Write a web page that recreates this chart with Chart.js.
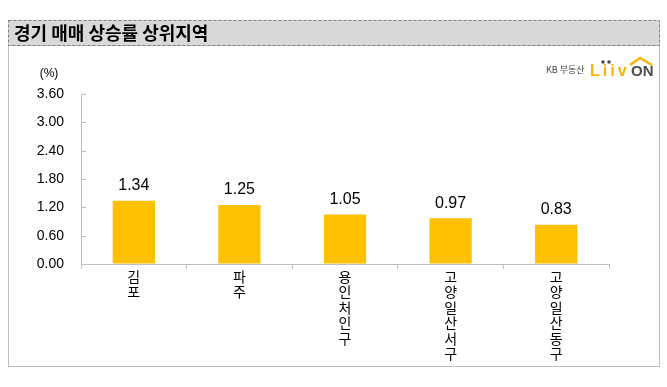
<!DOCTYPE html>
<html lang="ko">
<head>
<meta charset="UTF-8">
<title>경기 매매 상승률 상위지역</title>
<script src="https://cdn.jsdelivr.net/npm/chart.js"></script>
<style>
  html, body { margin: 0; padding: 0; background: #fff; }
  canvas { display: block; }
</style>
</head>
<body>
<canvas id="chart" width="667" height="387"></canvas>
<script>
// 데이터
var titleText = '경기 매매 상승률 상위지역';
var regions = ['김포', '파주', '용인 처인구', '고양 일산서구', '고양 일산동구'];
var rates = [1.34, 1.25, 1.05, 0.97, 0.83];
var yMin = 0;
var yMax = 3.6;
var yStep = 0.6;
var unitText = '(%)';

var numFont = 'Arial, "Liberation Sans", sans-serif';
var korFont = '"Noto Sans CJK KR", "Noto Sans", sans-serif';

// 글자를 세로로 쌓기 (공백 제외)
var stackedLabels = regions.map(function (r) {
  return r.replace(/\s/g, '').split('');
});

// 배경, 제목, 로고, 단위, 값 표시
var decorPlugin = {
  id: 'decor',
  beforeDraw: function (chart) {
    var c = chart.ctx;
    c.save();
    // 패널 테두리
    c.strokeStyle = '#bfbfbf';
    c.lineWidth = 1;
    c.strokeRect(8.5, 45.5, 651, 321);
    // 제목 바
    c.fillStyle = '#d9d9d9';
    c.fillRect(8, 20, 652, 25);
    c.setLineDash([3, 2]);
    c.strokeStyle = '#7f7f7f';
    c.strokeRect(8.5, 20.5, 651, 25);
    c.setLineDash([]);
    c.fillStyle = '#000';
    c.font = 'bold 18px ' + korFont;
    c.textBaseline = 'middle';
    c.textAlign = 'left';
    c.fillText(titleText, 14, 33);

    // 로고
    c.font = '9px ' + korFont;
    c.fillStyle = '#444';
    c.fillText('KB 부동산', 546, 70);
    c.font = 'bold 16px ' + numFont;
    c.fillStyle = '#f7b500';
    c.letterSpacing = '3px';
    c.fillText('Liiv', 590, 72);
    c.letterSpacing = '0px';
    c.fillStyle = '#4d4d4d';
    c.font = 'bold 15px ' + numFont;
    c.fillText('ON', 631, 72);
    c.beginPath();
    c.arc(603, 62, 1.8, 0, Math.PI * 2);
    c.arc(609, 62, 1.8, 0, Math.PI * 2);
    c.fill();
    c.strokeStyle = '#f7b500';
    c.lineWidth = 2.5;
    c.beginPath();
    c.moveTo(630, 65);
    c.lineTo(640, 58);
    c.lineTo(652, 65);
    c.stroke();

    // 단위
    c.font = '12px ' + numFont;
    c.fillStyle = '#000';
    c.textAlign = 'center';
    c.fillText(unitText, 49, 74);
    c.restore();
  },
  afterDatasetsDraw: function (chart) {
    var c = chart.ctx;
    var y = chart.scales.y;
    var area = chart.chartArea;
    c.save();
    // y축 안쪽 눈금
    c.strokeStyle = '#bfbfbf';
    c.lineWidth = 1;
    for (var v = yMin; v <= yMax + 1e-9; v += yStep) {
      var py = Math.round(y.getPixelForValue(v)) + 0.5;
      c.beginPath();
      c.moveTo(area.left, py);
      c.lineTo(area.left + 5, py);
      c.stroke();
    }
    // 값 레이블
    c.font = '16px ' + numFont;
    c.fillStyle = '#000';
    c.textAlign = 'center';
    c.textBaseline = 'middle';
    chart.getDatasetMeta(0).data.forEach(function (bar, i) {
      c.fillText(rates[i].toFixed(2), bar.x, bar.y - 15);
    });
    c.restore();
  }
};

new Chart(document.getElementById('chart').getContext('2d'), {
  type: 'bar',
  data: {
    labels: stackedLabels,
    datasets: [{
      data: rates,
      backgroundColor: '#ffc000',
      barPercentage: 0.4,
      categoryPercentage: 1.0
    }]
  },
  options: {
    responsive: false,
    animation: false,
    layout: { padding: { left: 0, right: 58, top: 94, bottom: 0 } },
    plugins: {
      legend: { display: false },
      tooltip: { enabled: false }
    },
    scales: {
      x: {
        afterFit: function (scale) { scale.height = 123; },
        grid: {
          display: true,
          drawOnChartArea: false,
          tickLength: 5,
          color: '#bfbfbf',
          offset: true
        },
        border: { display: true, color: '#bfbfbf' },
        ticks: {
          color: '#000',
          maxRotation: 0,
          minRotation: 0,
          padding: 0,
          font: { family: korFont, size: 14, lineHeight: 1.1 }
        }
      },
      y: {
        min: yMin,
        max: yMax,
        afterFit: function (scale) { scale.width = 81; },
        grid: { display: true, drawOnChartArea: false, drawTicks: false },
        border: { display: true, color: '#bfbfbf' },
        ticks: {
          stepSize: yStep,
          color: '#000',
          padding: 17,
          font: { family: numFont, size: 14 },
          callback: function (v) { return Number(v).toFixed(2); }
        }
      }
    }
  },
  plugins: [decorPlugin]
});
</script>
</body>
</html>
